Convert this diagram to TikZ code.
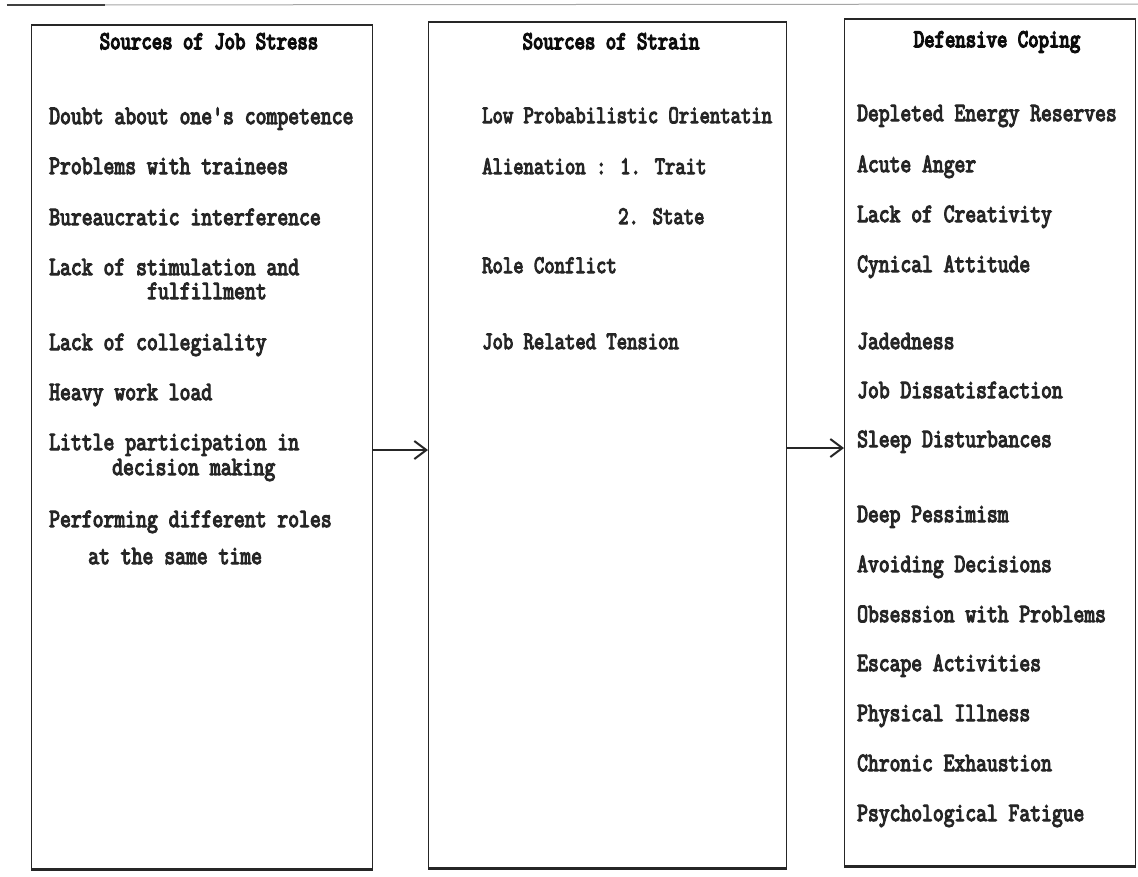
\documentclass[tikz,border=0pt]{standalone}
\usepackage{fontspec}
\newfontfamily\twfont{Latin Modern Mono}[FakeBold=4.8]
\newfontfamily\twtfont{Latin Modern Mono}[FakeBold=6]
\usepackage{graphicx}
\usetikzlibrary{arrows.meta}
\newcommand{\tl}[1]{\scalebox{1}[1.25]{#1}}
\begin{document}
\begin{tikzpicture}[x=1pt,y=-1pt,
  box/.style={draw=black!85, line width=1.4pt, inner sep=0pt, anchor=north west},
  itemL/.style={anchor=base west, inner sep=0pt, text=black!85, font=\fontsize{21.1}{22}\twfont},
  itemM/.style={anchor=base west, inner sep=0pt, text=black!85, font=\fontsize{20.1}{22}\twfont},
  itemR/.style={anchor=base west, inner sep=0pt, text=black!85, font=\fontsize{21.0}{22}\twfont},
  ttl/.style={anchor=base, inner sep=0pt, text=black!95, font=\fontsize{20.2}{22}\twtfont},
  arr/.style={-{Straight Barb[length=12pt,width=18pt,line width=2pt]}, line width=2pt, draw=black!85},
  bottom/.style={line width=2.8pt, draw=black!85}]
\useasboundingbox (0,0) rectangle (1138,876);
\fill[white] (0,0) rectangle (1138,876);
% scan line at top
\draw[black!35, line width=1pt] (7,5) -- (1138,4);
\draw[black!75, line width=1.6pt] (7,5) -- (105,5);

% boxes
\node[box, minimum width=341pt, minimum height=843pt] (L) at (31,25) {};
\node[box, minimum width=358pt, minimum height=845pt] (M) at (428,22) {};
\node[box, minimum width=291pt, minimum height=846pt] (R) at (844,19) {};
\draw[bottom] (L.south west) -- (L.south east);
\draw[bottom] (M.south west) -- (M.south east);
\draw[bottom] (R.south west) -- (R.south east);
\draw[line width=2pt, black!85] (L.north west) -- (L.north east);
\draw[line width=2pt, black!85] (M.north west) -- (M.north east);
\draw[line width=2pt, black!85] (R.north west) -- (R.north east);

% titles
\node[ttl] (tL) at (209,49) {\tl{Sources of Job Stress}};
\node[ttl] (tM) at (611,49) {\tl{Sources of Strain}};
\node[ttl] (tR) at (997,47) {\tl{Defensive Coping}};

% left items
\node[itemL] (l1) at (49,124) {\tl{Doubt about one's competence}};
\node[itemL] (l2) at (49,174) {\tl{Problems with trainees}};
\node[itemL] (l3) at (49,225) {\tl{Bureaucratic interference}};
\node[itemL] (l4) at (49,275) {\tl{Lack of stimulation and}};
\node[itemL] (l4b) at (147,299) {\tl{fulfillment}};
\node[itemL] (l5) at (49,350) {\tl{Lack of collegiality}};
\node[itemL] (l6) at (49,400) {\tl{Heavy work load}};
\node[itemL] (l7) at (49,450) {\tl{Little participation in}};
\node[itemL] (l7b) at (112,475) {\tl{decision making}};
\node[itemL] (l8) at (49,527) {\tl{Performing different roles}};
\node[itemL] (l8b) at (88,564) {\tl{at the same time}};

% middle items
\node[itemM] (m1) at (482,123) {\tl{Low Probabilistic Orientatin}};
\node[itemM] (m2) at (482,174) {\tl{Alienation : 1. Trait}};
\node[itemM] (m2b) at (618,224) {\tl{2. State}};
\node[itemM] (m3) at (482,273) {\tl{Role Conflict}};
\node[itemM] (m4) at (482,349) {\tl{Job Related Tension}};

% right items
\node[itemR] (r1) at (857,121) {\tl{Depleted Energy Reserves}};
\node[itemR] (r2) at (857,172) {\tl{Acute Anger}};
\node[itemR] (r3) at (857,222) {\tl{Lack of Creativity}};
\node[itemR] (r4) at (857,272) {\tl{Cynical Attitude}};
\node[itemR] (r5) at (857,349) {\tl{Jadedness}};
\node[itemR] (r6) at (857,398) {\tl{Job Dissatisfaction}};
\node[itemR] (r7) at (857,447) {\tl{Sleep Disturbances}};
\node[itemR] (r8) at (857,522) {\tl{Deep Pessimism}};
\node[itemR] (r9) at (857,572) {\tl{Avoiding Decisions}};
\node[itemR] (r10) at (857,622) {\tl{Obsession with Problems}};
\node[itemR] (r11) at (857,671) {\tl{Escape Activities}};
\node[itemR] (r12) at (857,721) {\tl{Physical Illness}};
\node[itemR] (r13) at (857,771) {\tl{Chronic Exhaustion}};
\node[itemR] (r14) at (857,821) {\tl{Psychological Fatigue}};

% arrows
\coordinate (a1) at (L.east |- 0,450);
\coordinate (a2) at (M.east |- 0,448);
\draw[arr] (a1) -- (a1 -| M.west);
\draw[arr] (a2) -- (a2 -| R.west);
\end{tikzpicture}
\end{document}
